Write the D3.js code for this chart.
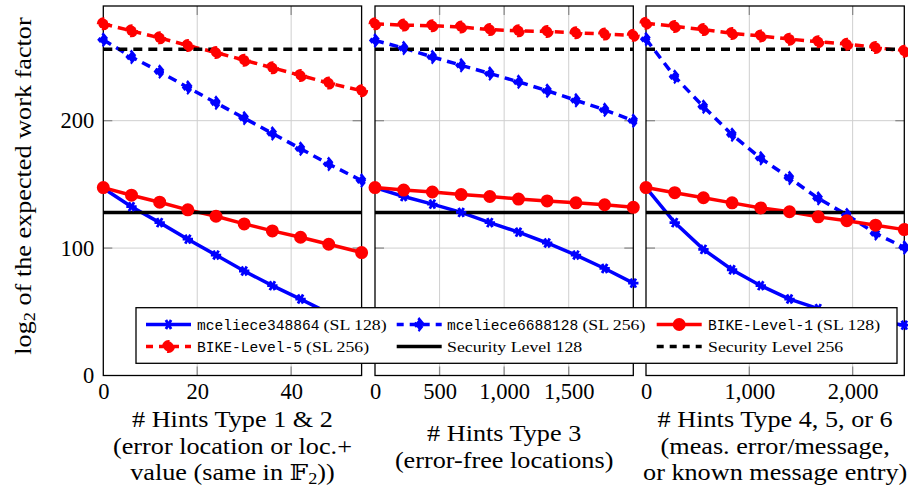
<!DOCTYPE html>
<html>
<head>
<meta charset="utf-8">
<script src="https://cdn.jsdelivr.net/npm/d3@7"></script>
<style>
  body { margin: 0; background: #fff; }
  svg { display: block; }
</style>
</head>
<body>
<div id="chart"></div>
<script>

// number of hints on the x axis (one list per panel)
const hints12 = [0, 6, 12, 18, 24, 30, 36, 42, 48, 55];
const hints3 = [0, 222, 444, 667, 889, 1111, 1333, 1556, 1778, 2000];
const hints456 = [0, 278, 556, 833, 1111, 1389, 1667, 1944, 2222, 2500];

// log2 of the expected work factor, panel 1 (hints type 1 & 2)
const mce348_p1 = [147, 132.5, 120, 107, 94.5, 82, 70.5, 60, 49, 38];
const mce6688_p1 = [263.5, 250, 238.5, 226, 214, 202, 190, 178, 166, 153];
const bike1_p1 = [147.5, 141.5, 136, 130, 125, 119, 113.5, 108.5, 103, 96.5];
const bike5_p1 = [276, 270.5, 265, 259, 253.5, 247.5, 241.5, 235.5, 229.5, 223.5];

// panel 2 (hints type 3)
const mce348_p2 = [147.5, 140.5, 134.5, 128, 120, 112.5, 104, 94.5, 84, 72.5];
const mce6688_p2 = [263, 257, 250, 243.5, 237, 230.5, 223.5, 216, 208.5, 200];
const bike1_p2 = [147.5, 145.5, 144, 142, 140.5, 138.5, 137, 135.5, 134, 132];
const bike5_p2 = [276, 275, 274.5, 273.5, 271.5, 270.5, 270, 269, 268, 267];

// panel 3 (hints type 4, 5, or 6)
const mce348_p3 = [147.5, 120, 99, 83, 70.5, 60, 52.5, 47, 43, 39.5];
const mce6688_p3 = [264, 234.5, 211, 189, 170.5, 155, 139, 126, 111.5, 100.5];
const bike1_p3 = [147.5, 143.5, 139.5, 135.5, 131.5, 128.5, 124.5, 121.5, 118, 114.5];
const bike5_p3 = [276.5, 274, 271.5, 268.5, 266.5, 264, 262, 260, 257.5, 254.5];

const xMax = [55, 2000, 2500];
const xTicks1 = [0, 20, 40];
const xTicks2 = [0, 500, 1000, 1500];
const xTicks3 = [0, 1000, 2000];
const yTicks = [0, 100, 200];
const yMax = 290;

const schemes = ["mceliece348864", "mceliece6688128", "BIKE-Level-1", "BIKE-Level-5"];
const schemeLevels = ["(SL 128)", "(SL 256)", "(SL 128)", "(SL 256)"];
const securityLevels = [128, 256];
const securityNames = ["Security Level 128", "Security Level 256"];

const titles1 = ["# Hints Type 1 & 2", "(error location or loc.+", "value (same in \u{1D53D}|2|))"];
const titles2 = ["# Hints Type 3", "(error-free locations)"];
const titles3 = ["# Hints Type 4, 5, or 6", "(meas. error/message,", "or known message entry)"];

// ------------------------------------------------------------------
let width = 908, height = 491;
let panelLeft = [103.3, 375, 646];
let panelW = 258.3;
let plotTop = 6, plotBottom = 375.5;

const serif = "Liberation Serif, DejaVu Serif, serif";
const mono = "Liberation Mono, DejaVu Sans Mono, monospace";
// Computer Modern is wider than Times, stretch the serif text a bit
const stretch = 1.14;

let panels = [
  {x: hints12, max: xMax[0], ticks: xTicks1, titles: titles1, titleY: 427,
   series: [mce348_p1, mce6688_p1, bike1_p1, bike5_p1]},
  {x: hints3, max: xMax[1], ticks: xTicks2, titles: titles2, titleY: 441,
   series: [mce348_p2, mce6688_p2, bike1_p2, bike5_p2]},
  {x: hints456, max: xMax[2], ticks: xTicks3, titles: titles3, titleY: 427,
   series: [mce348_p3, mce6688_p3, bike1_p3, bike5_p3]}
];

// style of each scheme: colour, dash, marker
let styles = [
  {color: "#0000ff", dash: null, mark: "asterisk"},
  {color: "#0000ff", dash: "9,6", mark: "diamond"},
  {color: "#ff0000", dash: null, mark: "circle"},
  {color: "#ff0000", dash: "9,6", mark: "circle"}
];

let y = d3.scaleLinear().domain([0, yMax]).range([plotBottom, plotTop]);

let svg = d3.select("#chart").append("svg")
  .attr("width", width)
  .attr("height", height);

function serifText(parent, x, y, anchor, size, rotate) {
  return parent.append("text")
    .attr("transform", `translate(${x},${y})` + (rotate ? ` rotate(${rotate})` : "") + ` scale(${stretch},1)`)
    .attr("text-anchor", anchor)
    .attr("font-family", serif)
    .attr("font-size", size)
    .attr("fill", "#000");
}

function drawMark(g, kind, st, cx, cy) {
  if (kind === "circle") {
    g.append("circle")
      .attr("cx", cx).attr("cy", cy).attr("r", 5)
      .attr("fill", st.color)
      .attr("stroke", st.color)
      .attr("stroke-width", 3)
      .attr("stroke-dasharray", st.dash);
  } else if (kind === "diamond") {
    g.append("path")
      .attr("d", "M0,-5.5L4.5,0L0,5.5L-4.5,0Z")
      .attr("transform", `translate(${cx},${cy})`)
      .attr("fill", st.color)
      .attr("stroke", st.color)
      .attr("stroke-width", 2.5)
      .attr("stroke-dasharray", "6,3");
  } else {
    g.append("path")
      .attr("d", d3.symbol(d3.symbolAsterisk, 75)())
      .attr("transform", `translate(${cx},${cy}) rotate(90)`)
      .attr("fill", "none")
      .attr("stroke", st.color)
      .attr("stroke-width", 2.8);
  }
}

let gridLayer = svg.append("g");
let frameLayer = svg.append("g");
let lineLayer = svg.append("g");
let levelLayer = svg.append("g");
let markLayer = svg.append("g");
let textLayer = svg.append("g");

panels.forEach((p, pi) => {
  let x0 = panelLeft[pi];
  let x = d3.scaleLinear().domain([0, p.max]).range([x0, x0 + panelW]);

  let g = gridLayer.append("g");

  // grid lines
  g.selectAll(".vgrid").data(p.ticks.filter(t => t > 0))
    .enter().append("line")
    .attr("x1", d => x(d)).attr("x2", d => x(d))
    .attr("y1", plotTop).attr("y2", plotBottom)
    .attr("stroke", "#cfcfcf").attr("stroke-width", 1);
  g.selectAll(".hgrid").data(yTicks.filter(t => t > 0))
    .enter().append("line")
    .attr("x1", x0).attr("x2", x0 + panelW)
    .attr("y1", d => y(d)).attr("y2", d => y(d))
    .attr("stroke", "#cfcfcf").attr("stroke-width", 1);

  // little tick marks on both sides
  p.ticks.filter(t => t > 0).forEach(t => {
    [[plotBottom, plotBottom - 9], [plotTop, plotTop + 9]].forEach(a => {
      g.append("line").attr("x1", x(t)).attr("x2", x(t))
        .attr("y1", a[0]).attr("y2", a[1])
        .attr("stroke", "#8c8c8c").attr("stroke-width", 1.3);
    });
  });
  yTicks.filter(t => t > 0).forEach(t => {
    [[x0, x0 + 9], [x0 + panelW, x0 + panelW - 9]].forEach(a => {
      g.append("line").attr("x1", a[0]).attr("x2", a[1])
        .attr("y1", y(t)).attr("y2", y(t))
        .attr("stroke", "#8c8c8c").attr("stroke-width", 1.3);
    });
  });

  // frame
  frameLayer.append("rect")
    .attr("x", x0).attr("y", plotTop)
    .attr("width", panelW).attr("height", plotBottom - plotTop)
    .attr("fill", "none").attr("stroke", "#000").attr("stroke-width", 1.3);

  // x axis labels
  let xAxis = d3.axisBottom(x).tickValues(p.ticks).tickSize(0).tickPadding(0)
    .tickFormat(d3.format(","));
  let ax = textLayer.append("g")
    .attr("transform", `translate(0,${plotBottom})`)
    .call(xAxis);
  ax.select(".domain").remove();
  ax.selectAll("text")
    .attr("y", 23.5).attr("dy", null)
    .attr("font-family", serif).attr("font-size", 22.5).attr("fill", "#000");

  // axis title lines
  let cx = x0 + panelW / 2;
  p.titles.forEach((t, i) => {
    let txt = serifText(textLayer, cx, p.titleY + i * 26.5, "middle", 23);
    let parts = t.split("|");
    txt.append("tspan").text(parts[0]);
    if (parts.length > 1) {
      txt.append("tspan").attr("font-size", 16).attr("dy", 4).text(parts[1]);
      txt.append("tspan").attr("dy", -4).text(parts[2]);
    }
  });

  // series lines
  p.series.forEach((vals, si) => {
    let st = styles[si];
    let line = d3.line().x((d, i) => x(p.x[i])).y(d => y(d));
    lineLayer.append("path")
      .attr("d", line(vals))
      .attr("fill", "none")
      .attr("stroke", st.color)
      .attr("stroke-width", 3.5)
      .attr("stroke-dasharray", st.dash);
    vals.forEach((v, i) => drawMark(markLayer, st.mark, st, x(p.x[i]), y(v)));
  });

  // security levels
  securityLevels.forEach((lv, li) => {
    levelLayer.append("line")
      .attr("x1", x0).attr("x2", x0 + panelW)
      .attr("y1", y(lv)).attr("y2", y(lv))
      .attr("stroke", "#000").attr("stroke-width", 3.5)
      .attr("stroke-dasharray", li === 1 ? "9,6" : null);
  });
});

// y axis (left panel only)
let yAxis = d3.axisLeft(y).tickValues(yTicks).tickSize(0).tickPadding(0);
let yg = textLayer.append("g").attr("transform", `translate(${panelLeft[0] - 9},0)`).call(yAxis);
yg.select(".domain").remove();
yg.selectAll("text")
  .attr("font-family", serif).attr("font-size", 22.5).attr("fill", "#000");

let ylab = serifText(textLayer, 31, 186, "middle", 23, -90);
ylab.append("tspan").text("log");
ylab.append("tspan").attr("font-size", 16).attr("dy", 4).text("2");
ylab.append("tspan").attr("dy", -4).text(" of the expected work factor");

// ------------------------------------------------------------------
// legend
let legend = svg.append("g");
legend.append("rect")
  .attr("x", 136).attr("y", 307.7).attr("width", 761).attr("height", 55.6)
  .attr("fill", "#fff").attr("stroke", "#000").attr("stroke-width", 1.3);

let colSample = [146, 396.7, 656.7];
let colText = [197, 447, 708];
let rowY = [324.5, 346.5];
let entries = schemes.map((s, i) => ({name: s, level: schemeLevels[i], style: styles[i]}))
  .concat(securityNames.map((s, i) => ({name: s, level: null,
    style: {color: "#000", dash: i === 1 ? "9,6" : null, mark: null}})));

entries.forEach((e, i) => {
  let col = i % 3, row = Math.floor(i / 3);
  let sx = colSample[col], sy = rowY[row];
  legend.append("line")
    .attr("x1", sx).attr("x2", sx + 45)
    .attr("y1", sy).attr("y2", sy)
    .attr("stroke", e.style.color).attr("stroke-width", 3.5)
    .attr("stroke-dasharray", e.style.dash ? "7,6" : null);
  if (e.style.mark) drawMark(legend, e.style.mark, e.style, sx + 22.5, sy);

  let tx = colText[col];
  if (e.level) {
    let m = legend.append("text")
      .attr("x", tx).attr("y", sy + 5.5)
      .attr("font-family", mono).attr("font-size", 14.6)
      .text(e.name);
    tx += m.node().getComputedTextLength() + 4;
    serifText(legend, tx, sy + 5.5, "start", 15.6).text(e.level);
  } else {
    serifText(legend, tx, sy + 5.5, "start", 15.6).text(e.name);
  }
});

</script>
</body>
</html>
